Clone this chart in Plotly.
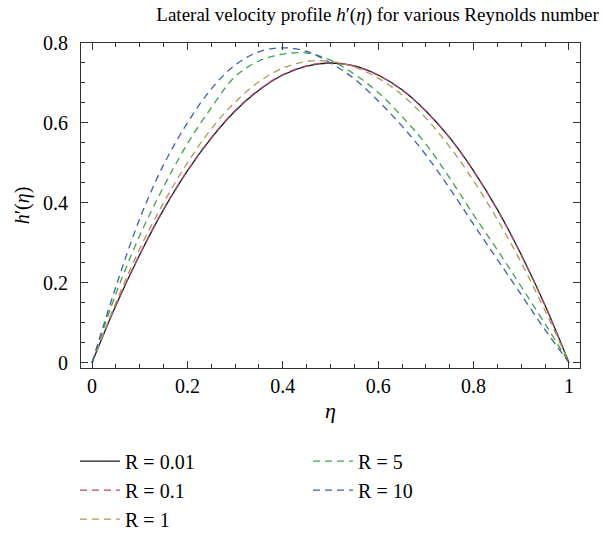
import plotly.graph_objects as go

eta = [0.0, 0.05, 0.1, 0.15, 0.2, 0.25, 0.3, 0.35, 0.4, 0.45, 0.5,
       0.55, 0.6, 0.65, 0.7, 0.75, 0.8, 0.85, 0.9, 0.95, 1.0]

h_R001 = [0, 0.143, 0.27, 0.383, 0.48, 0.562, 0.63, 0.682, 0.72, 0.742, 0.75,
          0.743, 0.72, 0.683, 0.63, 0.563, 0.48, 0.383, 0.27, 0.143, 0]
h_R01 = [0, 0.144, 0.271, 0.384, 0.481, 0.563, 0.631, 0.683, 0.721, 0.743, 0.75,
         0.742, 0.719, 0.682, 0.629, 0.562, 0.479, 0.382, 0.269, 0.142, 0]
h_R1 = [0, 0.15, 0.285, 0.40, 0.50, 0.585, 0.652, 0.703, 0.737, 0.754, 0.754,
        0.74, 0.712, 0.67, 0.612, 0.54, 0.455, 0.358, 0.25, 0.13, 0]
h_R5 = [0, 0.172, 0.318, 0.44, 0.548, 0.638, 0.716, 0.755, 0.772, 0.775, 0.757,
        0.722, 0.676, 0.616, 0.547, 0.462, 0.37, 0.282, 0.19, 0.097, 0]
h_R10 = [0, 0.19, 0.36, 0.495, 0.6, 0.685, 0.745, 0.778, 0.788, 0.779, 0.75,
         0.71, 0.655, 0.592, 0.52, 0.436, 0.346, 0.258, 0.17, 0.082, 0]

labels = ["R = 0.01", "R = 0.1", "R = 1", "R = 5", "R = 10"]
series = [h_R001, h_R01, h_R1, h_R5, h_R10]
colors = ["#1a1a1a", "#b5437a", "#a99a55", "#3da34f", "#3d62a8"]
dashes = ["solid", "7px,5px", "7px,5px", "7px,5px", "7px,5px"]
legends = ["legend", "legend", "legend", "legend2", "legend2"]

FONT = "Liberation Serif"
fig = go.Figure()
for lab, ys, c, d, lg in zip(labels, series, colors, dashes, legends):
    fig.add_trace(go.Scatter(
        x=eta, y=ys, mode="lines", name=lab, legend=lg,
        line=dict(color=c, width=1.3, dash=d, shape="spline", smoothing=1.0),
    ))

axis_common = dict(
    showline=True, linecolor="#333", linewidth=1, mirror="ticks",
    ticks="inside", ticklen=7, tickcolor="#333", tickwidth=1,
    showgrid=False, zeroline=False,
    tickfont=dict(family=FONT, size=20, color="black"),
)

fig.update_layout(
    width=611, height=533,
    margin=dict(l=81, r=31, t=43, b=165, autoexpand=False),
    paper_bgcolor="white", plot_bgcolor="white",
    font=dict(family=FONT, size=20, color="black"),
    title=dict(
        text="Lateral velocity profile <i>h</i>′(<i>η</i>) for various Reynolds number",
        x=0.618, xanchor="center", xref="container",
        y=1 - 14 / 533, yanchor="middle", yref="container",
        font=dict(family=FONT, size=19, color="black"),
    ),
    xaxis=dict(
        range=[-0.0231, 1.0231], tickvals=[0, 0.2, 0.4, 0.6, 0.8, 1.0],
        ticktext=["0", "0.2", "0.4", "0.6", "0.8", "1"],
        minor=dict(dtick=0.05, tick0=0, ticklen=4, ticks="inside", tickcolor="#333"),
        title=dict(text="<i>η</i>", font=dict(family=FONT, size=22), standoff=6),
        ticklabelstandoff=0,
        **axis_common,
    ),
    yaxis=dict(
        range=[-0.0133, 0.8], tickvals=[0, 0.2, 0.4, 0.6, 0.8],
        ticktext=["0", "0.2", "0.4", "0.6", "0.8"],
        minor=dict(dtick=0.05, tick0=0, ticklen=4, ticks="inside", tickcolor="#333"),
        title=dict(text="<i>h</i>′(<i>η</i>)", font=dict(family=FONT, size=20), standoff=8),
        ticklabelstandoff=8,
        **axis_common,
    ),
    legend=dict(
        x=-0.012, y=-0.2265, xanchor="left", yanchor="top",
        bgcolor="rgba(0,0,0,0)", font=dict(family=FONT, size=20),
        tracegroupgap=0, itemwidth=40,
    ),
    legend2=dict(
        x=0.455, y=-0.2265, xanchor="left", yanchor="top",
        bgcolor="rgba(0,0,0,0)", font=dict(family=FONT, size=20),
        tracegroupgap=0, itemwidth=40,
    ),
)

fig.write_html(
    "out.html",
    config={"displayModeBar": False},
    post_script="document.body.style.margin='0';document.body.style.padding='0';",
)
